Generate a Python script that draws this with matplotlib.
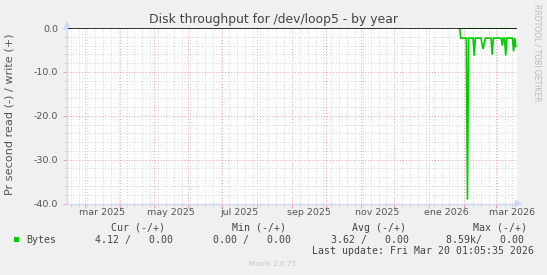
import matplotlib
matplotlib.use("Agg")
import matplotlib.pyplot as plt
import matplotlib.dates as mdates
from matplotlib.patches import Rectangle
import pandas as pd

# ---------------- data ----------------
first_day = "2026-01-28"
read_values = [
    0.0, -2.3, -2.3, -2.3,                      # Jan 28-31
    -2.3, -2.3, -2.3, -39.1, -2.3, -2.3, -2.3,  # Feb 1-7
    -2.3, -2.3, -6.3, -2.3, -2.3, -2.3, -2.3,   # Feb 8-14
    -2.3, -2.3, -3.6, -4.8, -3.4, -2.3, -2.3,   # Feb 15-21
    -2.3, -2.3, -2.3, -2.3, -6.1, -2.3, -2.3,   # Feb 22-28
    -2.3, -2.3, -2.3, -2.3, -2.3, -2.3, -4.0,   # Mar 1-7
    -2.3, -2.3, -6.3, -2.3, -2.3, -2.3, -2.3,   # Mar 8-14
    -2.3, -2.3, -5.3, -2.3, -4.2,               # Mar 15-19
]
write_values = [
    0.0, 0.0, 0.0, 0.0,
    0.0, 0.0, 0.0, 0.0, 0.0, 0.0, 0.0,
    0.0, 0.0, 0.0, 0.0, 0.0, 0.0, 0.0,
    0.0, 0.0, 0.0, 0.0, 0.0, 0.0, 0.0,
    0.0, 0.0, 0.0, 0.0, 0.0, 0.0, 0.0,
    0.0, 0.0, 0.0, 0.0, 0.0, 0.0, 0.0,
    0.0, 0.0, 0.0, 0.0, 0.0, 0.0, 0.0,
    0.0, 0.0, 0.0, 0.0, 0.0,
]
x_label_months = ["2025-03-01", "2025-05-01", "2025-07-01", "2025-09-01",
                  "2025-11-01", "2026-01-01", "2026-03-01"]
x_labels = ["mar 2025", "may 2025", "jul 2025", "sep 2025",
            "nov 2025", "ene 2026", "mar 2026"]
y_ticks = [0, -10, -20, -30, -40]
y_ticklabels = ["0.0", "-10.0", "-20.0", "-30.0", "-40.0"]
end_time = "2026-03-20 01:05:35"

legend_headers = ["Cur (-/+)", "Min (-/+)", "Avg (-/+)", "Max (-/+)"]
legend_values = ["4.12 /   0.00", "0.00 /   0.00", "3.62 /   0.00", "8.59k/   0.00"]
series_name = "Bytes"
title = "Disk throughput for /dev/loop5 - by year"
ylabel = "Pr second read (-) / write (+)"
last_update = "Last update: Fri Mar 20 01:05:35 2026"

# ---------------- figure ----------------
W, H = 547, 275
BG = "#f0f0f0"
GREEN = "#00cc00"
AXIS_C = "#cfd6f8"
MGRID = "#f0a0a0"
GRID = "#d2d2d2"
FONT_C = "#555555"

fig = plt.figure(figsize=(W / 100, H / 100), dpi=100, facecolor=BG)
L, R, T, B = 67, 517, 28, 203.5
ax = fig.add_axes([L / W, 1 - B / H, (R - L) / W, (B - T) / H])
ax.set_facecolor("white")

dates = pd.date_range(first_day, periods=len(read_values), freq="D")
end = pd.Timestamp(end_time)
start = end - pd.Timedelta(days=400)

ax.plot(dates, write_values, color=GREEN, lw=1.2, zorder=3)
ax.plot(dates, read_values, color=GREEN, lw=1.2, zorder=3, solid_joinstyle="miter")
ax.axhline(0, color="black", lw=1.1, zorder=4)

ax.set_xlim(start, end)
ax.set_ylim(-40, 0)

# grid
months = pd.date_range("2025-03-01", "2026-03-01", freq="MS")
weeks = pd.date_range(start.normalize(), end, freq="W-MON")
ax.set_xticks(months)
ax.set_xticklabels([])
ax.set_xticks(weeks, minor=True)
ax.set_yticks(y_ticks)
ax.set_yticklabels(y_ticklabels)
ax.set_yticks([v for v in range(-38, 0, 2) if v % 10 != 0], minor=True)

dots = (0, (1, 2))
ax.grid(which="major", color=MGRID, lw=0.7, linestyle=dots, zorder=1)
ax.grid(which="minor", color=GRID, lw=0.7, linestyle=dots, zorder=0)
ax.set_axisbelow(True)

ax.tick_params(axis="x", which="major", length=3, width=0.7, color=MGRID, direction="out")
ax.tick_params(axis="x", which="minor", length=2, width=0.7, color=GRID, direction="out")
ax.tick_params(axis="y", which="major", length=3, width=0.7, color=MGRID, direction="out",
               labelsize=6.8, labelcolor=FONT_C, pad=3.5)
ax.tick_params(axis="y", which="minor", length=2, width=0.7, color=GRID, direction="out")

for s in ["top", "right"]:
    ax.spines[s].set_visible(False)
for s in ["left", "bottom"]:
    ax.spines[s].set_color(AXIS_C)
    ax.spines[s].set_linewidth(1.0)
    ax.spines[s].set_zorder(5)

# axis arrows
ax.annotate("", xy=(0, 1.0 + 7 / (B - T)), xytext=(0, 1.0), xycoords="axes fraction",
            arrowprops=dict(arrowstyle="-|>,head_length=0.45,head_width=0.2", color=AXIS_C, lw=1.0,
                            shrinkA=0, shrinkB=0), annotation_clip=False)
ax.annotate("", xy=(1.0 + 6 / (R - L), 0), xytext=(1.0, 0), xycoords="axes fraction",
            arrowprops=dict(arrowstyle="-|>,head_length=0.45,head_width=0.2", color=AXIS_C, lw=1.0,
                            shrinkA=0, shrinkB=0), annotation_clip=False)

# month labels (centred half a month after the month start, as rrdtool does)
xtr = ax.get_xaxis_transform()
for m, lab in zip(x_label_months, x_labels):
    pos = pd.Timestamp(m) + pd.Timedelta(days=15)
    ax.text(pos, -(212.5 - B) / (B - T), lab, transform=xtr, ha="center", va="center",
            fontsize=6.8, color=FONT_C, clip_on=False)


def ftext(x, y, s, **kw):
    fig.text(x / W, 1 - y / H, s, **kw)


ftext(273.5, 19, title, ha="center", va="center", fontsize=8.9, color="#444444")
ftext(10, 114, ylabel, ha="center", va="center", rotation=90, fontsize=8.1, color=FONT_C)
ftext(537.5, 53, "RRDTOOL / TOBI OETIKER", ha="center", va="center", rotation=270,
      fontsize=5.5, color="#bbbbbb")

mono = dict(family="DejaVu Sans Mono", fontsize=7.1, color="#444444", va="center", ha="left")
fig.patches.append(Rectangle((14 / W, 1 - 242.3 / H), 5 / W, 5 / H, transform=fig.transFigure,
                             facecolor=GREEN, edgecolor="none"))
ftext(26.7, 240, series_name, **mono)
for xh, s in zip([110.7, 231.7, 352.3, 472.7], legend_headers):
    ftext(xh, 227.7, s, **mono)
for xv, s in zip([95, 212.7, 331, 445.7], legend_values):
    ftext(xv, 240, s, **mono)
ftext(311.7, 251.5, last_update, **mono)
ftext(272.8, 264.3, "Munin 2.0.75", ha="center", va="center", fontsize=5.2, color="#c4c4c4")

fig.savefig("out.png", dpi=100, facecolor=BG)
